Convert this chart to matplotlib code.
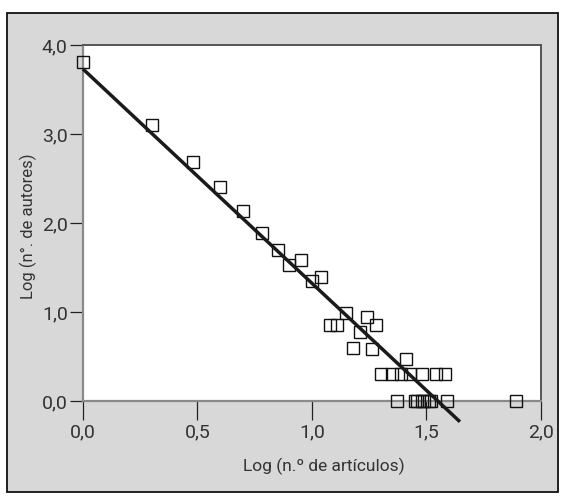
import matplotlib
matplotlib.use('Agg')
import matplotlib.pyplot as plt
from matplotlib.patches import Rectangle

# log(n. de articulos) vs log(n. de autores)
log_articulos = [0.00, 0.30, 0.48, 0.60, 0.70, 0.78, 0.85, 0.90, 0.95, 1.00,
                 1.04, 1.08, 1.11, 1.15, 1.18, 1.21, 1.24, 1.26, 1.28,
                 1.30, 1.35, 1.39, 1.41, 1.43, 1.48, 1.54, 1.58,
                 1.37, 1.45, 1.46, 1.48, 1.49, 1.51, 1.52, 1.59, 1.89]
log_autores = [3.81, 3.10, 2.68, 2.41, 2.14, 1.89, 1.70, 1.53, 1.58, 1.35,
               1.39, 0.85, 0.85, 0.99, 0.59, 0.77, 0.94, 0.58, 0.85,
               0.30, 0.30, 0.30, 0.47, 0.30, 0.30, 0.30, 0.30,
               0.00, 0.00, 0.00, 0.00, 0.00, 0.00, 0.00, 0.00, 0.00]

# fitted line endpoints
fit_x = [0.0, 1.646]
fit_y = [3.73, -0.233]

xticks = [0.0, 0.5, 1.0, 1.5, 2.0]
xtick_labels = ['0,0', '0,5', '1,0', '1,5', '2,0']
yticks = [0.0, 1.0, 2.0, 3.0, 4.0]
ytick_labels = ['0,0', '1,0', '2,0', '3,0', '4,0']

plt.rcParams['font.family'] = ['Roboto', 'DejaVu Sans']
text_color = '#333333'

fig = plt.figure(figsize=(5.63, 5.03), dpi=100)
fig.patch.set_facecolor('white')

# gray panel with black frame (behind the axes)
W, H = 563, 503
panel = Rectangle((6.5 / W, 1 - 492 / H), (558 - 6.5) / W, (492 - 12.5) / H,
                  transform=fig.transFigure, facecolor='#d8d8d8',
                  edgecolor='#111111', linewidth=1.3, zorder=-5)
fig.add_artist(panel)

ax = fig.add_axes([83 / W, 1 - 401 / H, (541 - 83) / W, (401 - 45) / H])
ax.set_facecolor('white')
ax.set_xlim(0, 2.0)
ax.set_ylim(0, 4.0)

ax.plot(log_articulos, log_autores, linestyle='none', marker='s', markersize=8.5,
        markerfacecolor='none', markeredgecolor='#111111', markeredgewidth=1.0,
        clip_on=False, zorder=3)
ax.plot(fit_x, fit_y, color='#1a1a1a', linewidth=2.5, clip_on=False, zorder=4,
        solid_capstyle='butt')

for side in ['left', 'bottom']:
    ax.spines[side].set_color('#8a8a8a')
    ax.spines[side].set_linewidth(1.6)
for side in ['top', 'right']:
    ax.spines[side].set_color('#555555')
    ax.spines[side].set_linewidth(1.4)

ax.set_xticks(xticks)
ax.set_xticklabels(xtick_labels)
ax.set_yticks(yticks)
ax.set_yticklabels(ytick_labels)
ax.tick_params(axis='x', direction='out', length=13.5, width=0.9, color='#222222',
               pad=2.5, labelsize=14, labelcolor=text_color)
ax.tick_params(axis='y', direction='out', length=9.5, width=0.9, color='#222222',
               pad=1.5, labelsize=14, labelcolor=text_color)

ax.set_xlabel('Log (n.º de artículos)', fontsize=12.5, color=text_color)
ax.xaxis.set_label_coords(0.525, -0.16)
ax.set_ylabel('Log (n°. de autores)', fontsize=12, color=text_color)
ax.yaxis.set_label_coords(-0.10, 0.49)

plt.savefig('out.png', dpi=100)
plt.close()
